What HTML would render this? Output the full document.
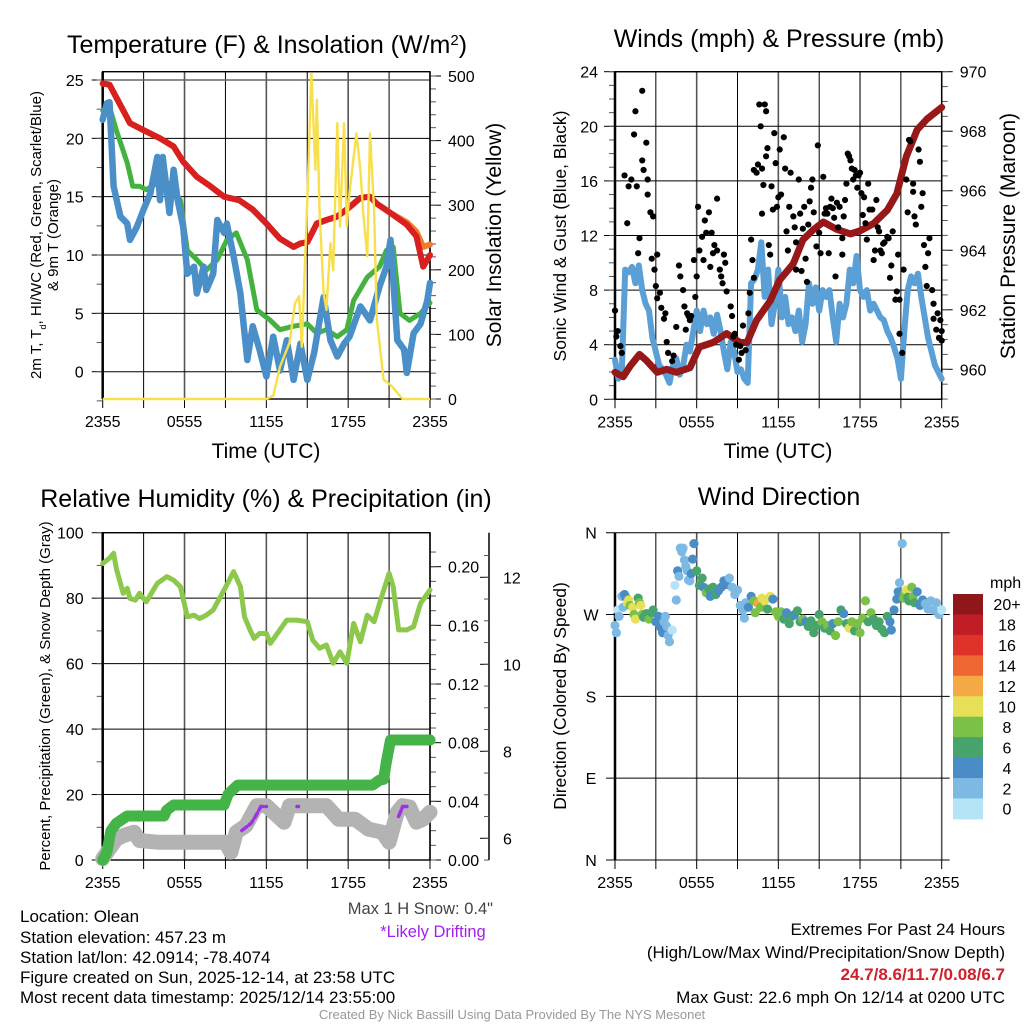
<!DOCTYPE html>
<html><head><meta charset="utf-8"><title>Olean Meteogram</title>
<style>
html,body{margin:0;padding:0;background:#fff;}
svg{display:block;font-family:"Liberation Sans",sans-serif;}
</style></head>
<body>
<svg id="fig" width="1024" height="1024" viewBox="0 0 1024 1024" xmlns="http://www.w3.org/2000/svg">
<g id="static">
<text x="267" y="53" font-size="25" text-anchor="middle">Temperature (F) &amp; Insolation (W/m<tspan baseline-shift="super" font-size="15">2</tspan>)</text>
<text x="779" y="47" font-size="25" text-anchor="middle">Winds (mph) &amp; Pressure (mb)</text>
<text x="266" y="507" font-size="25" text-anchor="middle">Relative Humidity (%) &amp; Precipitation (in)</text>
<text x="779" y="505" font-size="25" text-anchor="middle">Wind Direction</text>
<text x="266" y="458" font-size="21" text-anchor="middle">Time (UTC)</text>
<text x="778" y="458" font-size="21" text-anchor="middle">Time (UTC)</text>
<text transform="translate(41,235) rotate(-90)" font-size="15" text-anchor="middle">2m T, T<tspan baseline-shift="sub" font-size="9">d</tspan>, HI/WC (Red, Green, Scarlet/Blue)</text>
<text transform="translate(58,235) rotate(-90)" font-size="15" text-anchor="middle">&amp; 9m T (Orange)</text>
<text transform="translate(501,235) rotate(-90)" font-size="21" text-anchor="middle">Solar Insolation (Yellow)</text>
<text transform="translate(566,236) rotate(-90)" font-size="17.5" text-anchor="middle">Sonic Wind &amp; Gust (Blue, Black)</text>
<text transform="translate(1015,236) rotate(-90)" font-size="21" text-anchor="middle">Station Pressure (Maroon)</text>
<text transform="translate(50,696) rotate(-90)" font-size="15" text-anchor="middle">Percent, Precipitation (Green), &amp; Snow Depth (Gray)</text>
<text transform="translate(566,696) rotate(-90)" font-size="17.5" text-anchor="middle">Direction (Colored By Speed)</text>
<text x="493" y="914" font-size="16.5" fill="#444" text-anchor="end">Max 1 H Snow: 0.4"</text>
<text x="433" y="937" font-size="16.5" fill="#a020f0" text-anchor="middle">*Likely Drifting</text>
<g font-size="17">
<text x="20" y="922">Location: Olean</text>
<text x="20" y="943">Station elevation: 457.23 m</text>
<text x="20" y="963">Station lat/lon: 42.0914; -78.4074</text>
<text x="20" y="983">Figure created on Sun, 2025-12-14, at 23:58 UTC</text>
<text x="20" y="1003">Most recent data timestamp: 2025/12/14 23:55:00</text>
</g>
<g font-size="17" text-anchor="end">
<text x="1005" y="935">Extremes For Past 24 Hours</text>
<text x="1005" y="958">(High/Low/Max Wind/Precipitation/Snow Depth)</text>
<text x="1005" y="980" fill="#d0202a" font-weight="bold">24.7/8.6/11.7/0.08/6.7</text>
<text x="1005" y="1003">Max Gust: 22.6 mph On 12/14 at 0200 UTC</text>
</g>
<text x="512" y="1019" font-size="13" fill="#999" text-anchor="middle">Created By Nick Bassill Using Data Provided By The NYS Mesonet</text>
</g>
</svg>
<script>
// ---------- data (hours since 2355 UTC) ----------
const timeTicks = ["2355","0555","1155","1755","2355"];
const tempH = [0,0.5,2,3,4.2,5.2,5.9,6.9,7.9,8.9,10,11,12,13,14,14.5,15,15.7,16.4,17.2,18.1,18.9,19.6,20.1,21.1,22.3,23,23.5,24];
const tempV = [24.7,24.6,21.3,20.7,20,19.3,18,16.7,15.9,15,14.7,13.9,12.7,11.4,10.7,11,11.1,12.7,13,13.3,14.1,14.9,15,14.4,13.6,12.6,11.6,9,10];
const temp9mV = [24.7,24.6,21.3,20.7,20,19.3,18,16.7,15.9,15,14.7,13.9,12.7,11.4,10.7,11,11.1,12.7,13,13.3,14.1,14.9,15,14.4,13.6,12.8,12,10.7,10.9];
const dewH = [0,0.5,1,1.8,2.2,2.7,3.2,4.2,4.9,5.7,6.2,6.9,7.6,8.4,9.1,9.8,10.6,11.3,12.3,13,14,15,15.7,16.4,17.2,17.9,18.4,19.4,20.3,20.8,21.3,21.8,22.5,23.3,24];
const dewV = [22.4,22.7,20.7,17.9,15.9,15.9,15.6,16.3,16.1,14.7,10.4,9.6,8.7,9.6,11.3,11.9,9.6,5.3,4.4,3.6,3.9,4.1,3.3,3.6,3,3.6,6.1,8.1,9,10.4,10.7,5,4.4,5,5.9];
const chillH = [0,0.3,0.5,0.8,1.3,1.8,2,2.5,3,3.5,4,4.2,4.4,4.9,5.2,5.5,5.9,6.2,6.7,6.9,7.4,7.6,8.1,8.4,8.9,9.1,9.6,10.1,10.6,11,11.5,12,12.5,13,13.5,14,14.5,15,15.5,16.2,16.7,17.2,17.7,18.1,18.9,19.6,20.3,20.8,21.1,21.6,22.1,22.3,22.8,23.3,23.8,24];
const chillV = [21.6,23,23.1,15.9,13.3,12.7,11.3,12.4,13.9,15.3,18.4,14.7,18.4,13.6,17.3,14.7,12.4,8.4,9,6.7,9,7,8.4,13,11.9,12.7,9.9,6.7,1,3.9,1.9,-0.4,3,0.1,2.7,-0.7,2.4,-0.7,1.6,6.4,2.7,1.3,2.4,3,5.6,4.4,7.3,9,11.3,2.7,1.9,-0.1,3.3,4.1,6.1,7.6];
const solarH = [0,12,12.5,13,13.7,14.1,14.4,14.6,15,15.3,15.6,15.7,15.9,16.2,16.4,16.7,16.9,17.2,17.4,17.7,17.9,18.1,18.6,18.9,19.1,19.4,19.6,19.9,20.1,20.6,21.1,22,24];
const solarV = [0,0,5,50,87,148,159,81,308,504,355,463,293,164,138,241,199,427,267,427,267,319,411,355,288,221,411,293,123,30,22,0,0];
const tempTicks = [0,5,10,15,20,25];
const solarTicks = [0,100,200,300,400,500];

const presH = [0,0.6,1.1,1.8,2.3,3.1,3.8,4.5,5.5,6.2,7.2,8.2,9.2,9.7,10.4,11.4,12.1,13.1,13.8,14.6,15.3,16.3,17.3,18,19,20,20.7,21.4,22.2,22.9,24];
const presV = [959.9,959.75,960.1,960.5,960.3,959.9,960,959.9,960.05,960.75,960.9,961.2,960.9,960.9,961.65,962.3,963,963.55,964.35,964.7,964.95,964.7,964.55,964.65,964.9,965.35,965.9,967.15,968.05,968.4,968.8];
const windH = [0,0.25,0.5,0.75,1,1.25,1.5,1.75,2,2.25,2.5,2.75,3,3.25,3.5,3.75,4,4.25,4.5,4.75,5,5.25,5.5,5.75,6,6.25,6.5,6.75,7,7.25,7.5,7.75,8,8.25,8.5,8.75,9,9.25,9.5,9.75,10,10.25,10.5,10.75,11,11.25,11.5,11.75,12,12.25,12.5,12.75,13,13.25,13.5,13.75,14,14.25,14.5,14.75,15,15.25,15.5,15.75,16,16.25,16.5,16.75,17,17.25,17.5,17.75,18,18.25,18.5,18.75,19,19.25,19.5,19.75,20,20.25,20.5,20.75,21,21.25,21.5,21.75,22,22.25,22.5,22.75,23,23.25,23.5,23.75,24];
const windV = [2.9,1.5,2,9.5,9.3,9.7,8.5,9.8,8,7,6.5,4.5,3.5,2.5,2.2,1.8,1.2,2.5,3,1.8,2.4,4,3.5,5,6.5,5,6.5,5.5,6,4.8,6.2,5,3.5,2.2,4.2,3.5,2,2.2,1.5,1.2,8.5,8.8,9.5,11.5,7.5,9.5,5.5,7,9.5,6,7.5,5.5,6,5,6.5,4.2,5.5,8.5,7,8.2,6.5,8,7.5,8,6,4.2,7,6,7,9.5,8.5,10.5,8,7.5,8,6.5,7,6.5,6,5.8,5,4.5,3.8,3,1.5,5,8,9,8.5,9.2,7.5,6,4.5,3.5,2.5,2,1.5];
const gustH = [0,0.1,0.2,0.4,0.5,0.7,0.9,1,1.2,1.5,1.4,1.6,1.7,1.8,2,2,2.1,2.3,2.4,2.4,2.6,2.7,2.8,2.9,3,3.1,3.1,3.3,3.4,3.6,3.7,3.8,3.9,4.2,4.3,4.5,4.7,4.8,5,5.1,5.2,5.3,5.4,5.5,5.6,5.8,5.9,6,6.1,6.2,6.4,6.5,6.6,6.7,6.9,7,7.1,7.2,7.3,7.5,7.5,7.7,7.8,7.9,8,8.1,8.2,8.5,8.6,8.7,8.8,8.9,9.1,9.2,9.3,9.4,9.6,9.8,9.9,10,10.1,10.2,10.2,10.4,10.5,10.6,10.7,10.8,10.8,10.9,11,11.1,11.1,11.2,11.3,11.4,11.5,11.6,11.7,11.8,11.9,12,12.1,12.2,12.4,12.5,12.6,12.7,12.8,12.9,13.1,13.2,13.3,13.3,13.5,13.6,13.7,13.8,13.9,14,14.1,14.2,14.3,14.4,14.5,14.6,14.8,14.9,15,15.1,15.3,15.4,15.5,15.6,15.7,15.8,15.9,16,16.1,16.2,16.3,16.4,16.5,16.7,16.7,16.8,16.9,17,17.1,17.2,17.3,17.4,17.5,17.6,17.7,17.8,17.9,18,18.1,18.2,18.3,18.4,18.5,18.6,18.7,18.9,19,19.1,19.2,19.3,19.4,19.5,19.6,19.7,19.8,20,20.1,20.2,20.3,20.4,20.6,20.7,20.8,20.9,20.9,21.1,21.2,21.4,21.5,21.6,21.7,21.9,21.9,22,22.1,22.3,22.4,22.5,22.6,22.7,22.8,22.9,23,23.1,23.3,23.4,23.4,23.6,23.7,23.8,23.9,24,24];
const gustV = [6.5,4.6,5,3.9,3.4,16.4,12.9,15.6,16.1,21.1,19.4,15.6,10.7,11.8,17.5,22.6,16.8,18.8,16.1,15,13.7,10.3,13.4,9.5,8.3,7.4,10.6,7.8,6.7,5.9,6.3,4.2,3.4,2.8,3.2,5.3,9.8,9,8,6.8,5.1,6.3,6.1,5.8,6.1,10.2,7.5,9,14.1,10.9,11.9,10.2,13.1,12.2,13.7,9.7,12.2,10.7,11.3,10.9,14.7,9.5,9,8.5,10.6,10,7.9,6.8,6.1,4.6,4.8,4,2.9,3.9,3.4,5.4,3.6,6.3,7.8,11.7,10.2,8.9,16.8,16.6,17.2,21.6,20,16.9,13.6,15.7,21.6,17.8,21.1,18.4,11.3,10.6,15.6,13.9,19.5,17.3,14.1,14.8,18.3,15,19.2,16.9,12.3,10.9,14.1,16.6,13.4,12.6,9.5,11.5,16.1,13.6,9.4,12.5,14.1,10.3,8.6,12.8,14.5,15.5,16.1,13.7,11.2,18.6,12.2,10.7,16.3,13.6,14,13.6,10.7,14.1,14.7,14,13.3,9,14.4,12.6,14.1,11.8,10.6,13.4,14.6,15.8,18,17.8,17.5,16.9,16.1,16.8,16.4,15.5,16.4,16.6,15.1,13.5,14.8,12.9,11.7,15.8,13.9,13.9,10.2,10.9,14.6,12.6,12.3,10.9,10.7,11.4,11.5,11.9,11.8,8.9,9.8,12.3,7.3,7.9,10.6,7.3,4.8,3.4,9.5,16.1,13.7,19,18.9,15.8,15.2,13.4,12.8,18.3,17.4,14.1,15.1,11.3,9.7,8.3,10.7,11.8,8,7,5.9,5.1,6.3,4.5,5.8,5,4.3];
const windTicks = [0,4,8,12,16,20,24];
const presTicks = [960,962,964,966,968,970];

const rhH = [0,0.5,0.8,1,1.5,1.8,2,2.4,2.7,3.2,4,4.7,5.2,5.7,6.2,6.7,7.1,7.6,8.1,8.9,9.6,10.1,10.4,10.8,11.1,11.5,12,12.3,12.8,13.5,14.2,15,15.4,15.9,16.4,16.9,17.4,17.9,18.4,18.9,19.4,19.9,20.3,21,21.3,21.7,22.3,22.8,23.3,24];
const rhV = [90.6,92.2,93.7,89.1,81.5,83,79.9,79.4,81.5,78.9,84.5,86.6,85.5,83.5,74.3,74.8,73.8,74.8,76.4,82.5,88.1,83.5,74.3,70.3,67.7,69.2,69.2,66.2,69.2,73.3,73.3,72.8,67.2,64.7,65.7,60.1,63.6,60.1,72.3,66.7,74.8,72.8,78.4,87.6,83.5,70.3,70.3,71.3,78.4,82.5];
const precipH = [0,0.3,0.6,1,1.8,4.5,4.7,5.2,8.9,9.2,9.9,19.8,20.3,20.6,20.8,21.1,24];
const precipV = [0,0.005,0.02,0.025,0.03,0.03,0.034,0.0375,0.0375,0.045,0.0511,0.0511,0.0545,0.055,0.067,0.0818,0.0818];
const snowH = [0,0.5,1,1.5,2.3,2.7,4,6,8,9,9.4,9.8,10.5,11.3,12,12.5,13.3,13.7,15,16.4,17.3,18.5,19.5,20.5,21,21.6,22,22.5,23,23.5,24];
const snowV = [5.53,5.76,5.98,6.06,6.14,5.95,5.91,5.91,5.91,5.91,5.68,6.14,6.29,6.75,6.75,6.6,6.37,6.75,6.75,6.75,6.44,6.44,6.21,6.14,5.91,6.6,6.75,6.72,6.37,6.44,6.6];
const driftSeg1H = [10.2,10.5,10.9,11.2,11.6,12];
const driftSeg1V = [6.18,6.25,6.35,6.5,6.73,6.73];
const driftSeg2H = [14.25,14.35];
const driftSeg2V = [6.73,6.73];
const driftSeg3H = [21.7,22,22.4];
const driftSeg3V = [6.5,6.73,6.73];
const rhTicks = [0,20,40,60,80,100];
const precipTicks = [0,0.04,0.08,0.12,0.16,0.20];
const precipTickLabels = ["0.00","0.04","0.08","0.12","0.16","0.20"];
const snowTicks = [6,8,10,12];

const dirH = [0,0.1,0.2,0.3,0.5,0.6,0.7,0.8,0.9,1.0,1.1,1.3,1.4,1.5,1.7,1.8,1.9,2.0,2.1,2.3,2.5,2.7,2.8,3.0,3.2,3.3,3.4,3.5,3.6,3.7,3.8,3.9,4.0,4.2,4.4,4.5,4.6,4.7,4.8,4.9,5.0,5.1,5.2,5.3,5.4,5.5,5.6,5.7,5.8,6.0,6.2,6.4,6.5,6.7,6.9,7.0,7.2,7.4,7.6,7.8,8.0,8.2,8.4,8.6,8.8,9.0,9.2,9.4,9.5,9.6,9.8,10.0,10.2,10.3,10.5,10.7,10.8,11.0,11.2,11.4,11.6,11.8,12.0,12.2,12.4,12.6,12.8,13.0,13.2,13.4,13.6,13.8,14.0,14.2,14.4,14.6,14.8,15.0,15.2,15.4,15.6,15.8,16.0,16.2,16.4,16.6,16.8,17.0,17.2,17.4,17.6,17.8,18.0,18.2,18.4,18.6,18.8,19.0,19.2,19.4,19.6,19.8,20.0,20.2,20.3,20.5,20.7,20.8,20.9,21.1,21.2,21.3,21.4,21.5,21.6,21.8,21.9,22.0,22.2,22.4,22.6,22.8,23.0,23.2,23.4,23.6,23.8,24];
const dirV = [258,250,275,268,290,278,292,289,283,286,280,278,270,265,288,283,280,270,267,271,265,272,275,262,268,258,255,250,262,268,257,247,240,253,302,286,318,312,343,339,343,330,323,318,308,307,315,331,348,318,302,310,300,294,298,290,300,292,296,300,307,303,310,300,292,297,280,275,266,283,278,290,285,272,282,278,288,285,276,290,287,273,268,273,265,272,260,268,270,274,262,265,262,257,263,250,258,270,262,255,258,252,260,247,262,275,271,260,255,262,252,260,250,266,285,262,272,265,258,262,254,250,268,262,253,275,287,295,305,348,288,293,297,289,285,300,290,283,295,280,286,282,276,285,275,283,270,275];
const dirSpd = [2,2,1,2,2,3,4,4,10,10,8,10,8,10,6,8,10,8,7,6,8,6,6,4,4,4,4,4,3,2,2,3,2,1,0,2,4,2,2,3,3,2,3,2,3,3,4,4,4,6,6,6,4,8,6,4,6,6,4,4,4,4,2,2,2,2,2,2,2,3,4,4,8,8,12,8,10,10,6,10,4,8,8,8,6,4,6,6,4,6,6,8,4,6,6,6,6,6,8,6,8,6,4,8,8,6,4,6,10,8,6,8,8,8,8,6,8,6,6,6,6,6,6,4,4,4,4,4,3,2,8,8,10,6,6,8,8,6,4,4,4,2,2,2,2,3,2];
const dirTicks = [0,90,180,270,360];
const dirTickLabels = ["N","E","S","W","N"];
const speedBins = [0,2,4,6,8,10,12,14,16,18,20];
const speedBinLabels = ["0","2","4","6","8","10","12","14","16","18","20+"];
const speedColors = ["#b5e4f7","#7db9e3","#4a8dc6","#47a46d","#7bc148","#e6e058","#f5a945","#ee6631","#df3329","#c01d26","#8e171a"];

// ---------- drawing helpers ----------
const NS = "http://www.w3.org/2000/svg";
const svg = document.getElementById("fig");
function mk(tag, attrs, parent){
  const e = document.createElementNS(NS, tag);
  for (const k in attrs) e.setAttribute(k, attrs[k]);
  (parent||svg).appendChild(e);
  return e;
}
function lineScale(d0,d1,r0,r1){ return v => r0 + (v-d0)/(d1-d0)*(r1-r0); }
function pathD(xs, ys, sx, sy){
  let d = "";
  for (let i=0;i<xs.length;i++) d += (i?"L":"M") + sx(xs[i]).toFixed(1) + " " + sy(ys[i]).toFixed(1);
  return d;
}
const TF = 16;

function panelFrame(p){
  const g = mk("g", {});
  
  
  for (let h=0; h<=24; h+=3){
    const x = p.sx(h);
    const major = h%6===0;
    const vl = mk("line",{x1:x,y1:p.T,x2:x,y2:p.B,stroke:major?"#555":"#000","stroke-width":major?1.6:1},g);
    
    
    mk("line",{x1:x,y1:p.B,x2:x,y2:p.B+9,stroke:"#000","stroke-width":1},g);
  }
  timeTicks.forEach((lab,i)=>{
    const t = mk("text",{x:p.sx(i*6),y:p.B+28,"font-size":TF,"text-anchor":"middle"},g);
    t.textContent = lab;
    
    
  });
  return g;
}

// ---------- Panel 1: temperature ----------
(function(){
  const L=102.7,R=430,T=71.7,B=399;
  const sx = lineScale(0,24,L,R);
  const sy = lineScale(0,25,371.7,80);
  const sy2 = lineScale(0,500,399,76);
  const g = panelFrame({name:"temperature",L,R,T,B,sx});
  tempTicks.forEach(v=>{
    mk("line",{x1:L,y1:sy(v),x2:R,y2:sy(v),stroke:v===25?"#666":"#000","stroke-width":v===25?1.6:1},g);
    mk("line",{x1:L-11,y1:sy(v),x2:L,y2:sy(v),stroke:"#000"},g);
    const t = mk("text",{x:L-19,y:sy(v)+6,"font-size":TF,"text-anchor":"end"},g);
    t.textContent = v;
    
    
  });
  for (let v=-2.5; v<=25; v+=2.5) mk("line",{x1:L-6,y1:sy(v),x2:L,y2:sy(v),stroke:"#555"},g);
  solarTicks.forEach(v=>{
    mk("line",{x1:R,y1:sy2(v),x2:R+11,y2:sy2(v),stroke:"#000"},g);
    const t = mk("text",{x:R+18,y:sy2(v)+6,"font-size":TF},g);
    t.textContent = v;
    
    
  });
  for (let v=0; v<=500; v+=20) mk("line",{x1:R,y1:sy2(v),x2:R+6,y2:sy2(v),stroke:"#555"},g);
  mk("rect",{x:L,y:T,width:R-L,height:B-T,fill:"none",stroke:"#000","stroke-width":1.4},g);
  mk("line",{x1:L,y1:T,x2:L,y2:B,stroke:"#000","stroke-width":2.5},g);
  const s1 = mk("path",{d:pathD(tempH,temp9mV,sx,sy),fill:"none",stroke:"#f07a2e","stroke-width":6,"stroke-linejoin":"round","stroke-linecap":"round"});
  
  
  const s2 = mk("path",{d:pathD(tempH,tempV,sx,sy),fill:"none",stroke:"#d7201f","stroke-width":6,"stroke-linejoin":"round","stroke-linecap":"round"});
  
  
  const s3 = mk("path",{d:pathD(dewH,dewV,sx,sy),fill:"none",stroke:"#44b23f","stroke-width":5,"stroke-linejoin":"round","stroke-linecap":"round"});
  
  
  const s4 = mk("path",{d:pathD(chillH,chillV,sx,sy),fill:"none",stroke:"#4a8fc8","stroke-width":6.5,"stroke-linejoin":"round","stroke-linecap":"round"});
  
  
  const s5 = mk("path",{d:pathD(solarH,solarV,sx,sy2),fill:"none",stroke:"#f8df4c","stroke-width":2.4,"stroke-linejoin":"round"});
  
  
})();

// ---------- Panel 2: winds ----------
(function(){
  const L=615,R=941.7,T=71.7,B=399.3;
  const sx = lineScale(0,24,L,R);
  const sy = lineScale(0,24,B,T);
  const sy2 = lineScale(960,970,369.3,71.7);
  const g = panelFrame({name:"winds",L,R,T,B,sx});
  windTicks.forEach(v=>{
    mk("line",{x1:L,y1:sy(v),x2:R,y2:sy(v),stroke:"#000"},g);
    mk("line",{x1:L-11,y1:sy(v),x2:L,y2:sy(v),stroke:"#000"},g);
    const t = mk("text",{x:L-17,y:sy(v)+6,"font-size":TF,"text-anchor":"end"},g);
    t.textContent = v;
    
    
  });
  for (let v=0; v<=24; v+=1) mk("line",{x1:L-6,y1:sy(v),x2:L,y2:sy(v),stroke:"#555"},g);
  presTicks.forEach(v=>{
    mk("line",{x1:R,y1:sy2(v),x2:R+11,y2:sy2(v),stroke:"#000"},g);
    const t = mk("text",{x:R+18,y:sy2(v)+6,"font-size":TF},g);
    t.textContent = v;
    
    
  });
  for (let v=959; v<=970; v+=0.5) mk("line",{x1:R,y1:sy2(v),x2:R+6,y2:sy2(v),stroke:"#555"},g);
  mk("rect",{x:L,y:T,width:R-L,height:B-T,fill:"none",stroke:"#000","stroke-width":1.4},g);
  mk("line",{x1:L,y1:T,x2:L,y2:B,stroke:"#000","stroke-width":2.5},g);
  const w = mk("path",{d:pathD(windH,windV,sx,sy),fill:"none",stroke:"#5a9fd6","stroke-width":6,"stroke-linejoin":"round","stroke-linecap":"round"});
  
  
  const p = mk("path",{d:pathD(presH,presV,sx,sy2),fill:"none",stroke:"#961818","stroke-width":7,"stroke-linejoin":"round","stroke-linecap":"round"});
  
  
  const gg = mk("g",{fill:"#000"});
  
  
  gustH.forEach((h,i)=>{
    const c = mk("circle",{cx:sx(h),cy:sy(gustV[i]),r:3.1},gg);
    
    
  });
})();

// ---------- Panel 3: RH / precip / snow ----------
(function(){
  const L=102.7,R=430,T=532.7,B=860;
  const sx = lineScale(0,24,L,R);
  const sy = lineScale(0,100,B,T);
  const syP = lineScale(0,0.2,B,566.7);
  const syS = lineScale(6,12,838.3,577.3);
  const g = panelFrame({name:"humidity",L,R,T,B,sx});
  rhTicks.forEach(v=>{
    mk("line",{x1:L,y1:sy(v),x2:R,y2:sy(v),stroke:"#000"},g);
    mk("line",{x1:L-11,y1:sy(v),x2:L,y2:sy(v),stroke:"#000"},g);
    const t = mk("text",{x:L-19,y:sy(v)+6,"font-size":TF,"text-anchor":"end"},g);
    t.textContent = v;
    
    
  });
  for (let v=0; v<=100; v+=10) mk("line",{x1:L-6,y1:sy(v),x2:L,y2:sy(v),stroke:"#555"},g);
  precipTicks.forEach((v,i)=>{
    mk("line",{x1:R,y1:syP(v),x2:R+11,y2:syP(v),stroke:"#000"},g);
    const t = mk("text",{x:R+18,y:syP(v)+6,"font-size":TF},g);
    t.textContent = precipTickLabels[i];
    
    
  });
  for (let v=0; v<=0.22; v+=0.01) mk("line",{x1:R,y1:syP(v),x2:R+6,y2:syP(v),stroke:"#555"},g);
  const ax = mk("line",{x1:489,y1:T,x2:489,y2:B,stroke:"#000","stroke-width":1.5},g);
  
  
  snowTicks.forEach(v=>{
    mk("line",{x1:480,y1:syS(v),x2:489,y2:syS(v),stroke:"#000"},g);
    const t = mk("text",{x:503,y:syS(v)+6,"font-size":TF},g);
    t.textContent = v;
    
    
  });
  for (let v=5.5; v<=12.5; v+=0.5) mk("line",{x1:484,y1:syS(v),x2:489,y2:syS(v),stroke:"#555"},g);
  mk("rect",{x:L,y:T,width:R-L,height:B-T,fill:"none",stroke:"#000","stroke-width":1.4},g);
  mk("line",{x1:L,y1:T,x2:L,y2:B,stroke:"#000","stroke-width":2.5},g);
  const sn = mk("path",{d:pathD(snowH,snowV,sx,syS),fill:"none",stroke:"#b3b3b3","stroke-width":15,"stroke-linejoin":"round","stroke-linecap":"round"});
  
  
  [[driftSeg1H,driftSeg1V],[driftSeg2H,driftSeg2V],[driftSeg3H,driftSeg3V]].forEach(s=>{
    const d = mk("path",{d:pathD(s[0],s[1],sx,syS),fill:"none",stroke:"#a12ee8","stroke-width":3.5,"stroke-linecap":"round","stroke-dasharray":"6 3"});
    
    
  });
  const pr = mk("path",{d:pathD(precipH,precipV,sx,syP),fill:"none",stroke:"#44b448","stroke-width":11,"stroke-linejoin":"round","stroke-linecap":"round"});
  
  
  const rh = mk("path",{d:pathD(rhH,rhV,sx,sy),fill:"none",stroke:"#8cc84b","stroke-width":5,"stroke-linejoin":"round","stroke-linecap":"round"});
  
  
})();

// ---------- Panel 4: wind direction ----------
(function(){
  const L=615,R=941.7,T=532.7,B=860;
  const sx = lineScale(0,24,L,R);
  const sy = lineScale(0,360,B,T);
  const g = panelFrame({name:"wind-direction",L,R,T,B,sx});
  dirTicks.forEach((v,i)=>{
    mk("line",{x1:L-9,y1:sy(v),x2:R+8,y2:sy(v),stroke:"#000"},g);
    const t = mk("text",{x:591,y:sy(v)+6,"font-size":TF,"text-anchor":"middle"},g);
    t.textContent = dirTickLabels[i];
    
    
  });
  mk("line",{x1:L,y1:T,x2:L,y2:B,stroke:"#000","stroke-width":2.5},g);
  const dg = mk("g",{});
  
  
  dirH.forEach((h,i)=>{
    let bi = 0;
    for (let k=0;k<speedBins.length;k++) if (dirSpd[i] >= speedBins[k]) bi = k;
    const c = mk("circle",{cx:sx(h),cy:sy(dirV[i]),r:4.6,fill:speedColors[bi]},dg);
    
    
  });
  const cb = mk("g",{});
  
  
  const top=594, bh=20.45;
  const ut = mk("text",{x:990,y:588,"font-size":TF},cb);
  ut.textContent = "mph";
  
  
  for (let k=0;k<speedColors.length;k++){
    const idx = speedColors.length-1-k;
    const r = mk("rect",{x:953,y:top+k*bh,width:30,height:bh+0.5,fill:speedColors[idx]},cb);
    
    
    const t = mk("text",{x:1007,y:top+k*bh+bh/2+6,"font-size":TF,"text-anchor":"middle"},cb);
    t.textContent = speedBinLabels[idx];
    
    
  }
})();
</script>
</body></html>
